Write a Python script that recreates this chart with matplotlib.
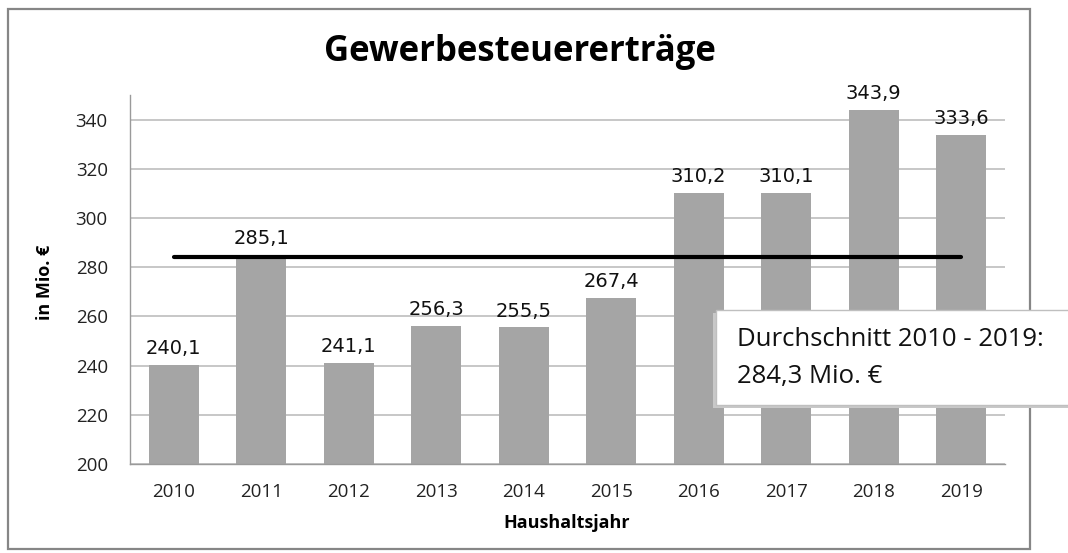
import matplotlib
matplotlib.use("Agg")
import matplotlib.pyplot as plt
from matplotlib.patches import Rectangle
import numpy as np

years = ["2010", "2011", "2012", "2013", "2014", "2015", "2016", "2017", "2018", "2019"]
values = [240.1, 285.1, 241.1, 256.3, 255.5, 267.4, 310.2, 310.1, 343.9, 333.6]
value_labels = ["240,1", "285,1", "241,1", "256,3", "255,5", "267,4", "310,2", "310,1", "343,9", "333,6"]
average = 284.3
yticks = [200, 220, 240, 260, 280, 300, 320, 340]

W, H = 1068, 553
fig = plt.figure(figsize=(W / 100, H / 100), dpi=100)
fig.patch.set_facecolor("white")

# outer chart border
fig.patches.append(Rectangle((8 / W, 4 / H), (1030 - 8) / W, (544 - 4) / H,
                             transform=fig.transFigure, fill=False,
                             edgecolor="#868686", linewidth=1.6, zorder=0))

ax = fig.add_axes([130 / W, (H - 464) / H, (1005 - 130) / W, (464 - 95) / H])
x = np.arange(len(years))
ax.bar(x, values, width=0.57, color="#A5A5A5", zorder=2)
ax.set_xlim(-0.5, len(years) - 0.5)
ax.set_ylim(200, 350)
ax.set_yticks(yticks)
ax.set_yticklabels([str(t) for t in yticks], fontsize=13.5, family="Open Sans", color="#222222")
ax.set_xticks(x)
ax.set_xticklabels(years, fontsize=13.5, family="Open Sans", color="#222222")
ax.tick_params(axis="x", length=0, pad=14)
ax.tick_params(axis="y", length=0, pad=16)
ax.grid(axis="y", color="#BDBDBD", linewidth=1.2, zorder=0)
ax.set_axisbelow(True)
for s in ["top", "right"]:
    ax.spines[s].set_visible(False)
for s in ["left", "bottom"]:
    ax.spines[s].set_color("#9A9A9A")
    ax.spines[s].set_linewidth(1.0)

for xi, v, lab in zip(x, values, value_labels):
    ax.annotate(lab, (xi, v), xytext=(0, 5), textcoords="offset points",
                ha="center", va="bottom", fontsize=14, family="DejaVu Sans", color="#111111")

# average line
ax.plot([x[0], x[-1]], [average, average], color="black", linewidth=3.0,
        solid_capstyle="round", zorder=3)

fig.text(520 / W, 1 - 52 / H, "Gewerbesteuererträge", ha="center", va="center",
         fontsize=25, fontweight="bold", family="Open Sans")
fig.text(567 / W, 1 - 523 / H, "Haushaltsjahr", ha="center", va="center",
         fontsize=13, fontweight="bold", family="Open Sans")
fig.text(45 / W, 1 - 282 / H, "in Mio. €", ha="center", va="center", rotation=90,
         fontsize=13, fontweight="bold", family="Open Sans")

# annotation box with shadow
bx0, by0, bx1, by1 = 716, 310, 1075, 405
fig.patches.append(Rectangle(((bx0 - 3) / W, 1 - (by1 + 3) / H), (bx1 - bx0) / W, (by1 - by0) / H,
                             transform=fig.transFigure, facecolor="#C8C8C8",
                             edgecolor="none", zorder=5))
fig.patches.append(Rectangle((bx0 / W, 1 - by1 / H), (bx1 - bx0) / W, (by1 - by0) / H,
                             transform=fig.transFigure, facecolor="white",
                             edgecolor="#BFBFBF", linewidth=1.0, zorder=6))
fig.text(737 / W, 1 - 340 / H, "Durchschnitt 2010 - 2019:", ha="left", va="center",
         fontsize=18.5, family="Open Sans", color="#111111", zorder=7)
fig.text(737 / W, 1 - 377 / H, "284,3 Mio. €", ha="left", va="center",
         fontsize=18.5, family="Open Sans", color="#111111", zorder=7)

fig.savefig("out.png", dpi=100)
